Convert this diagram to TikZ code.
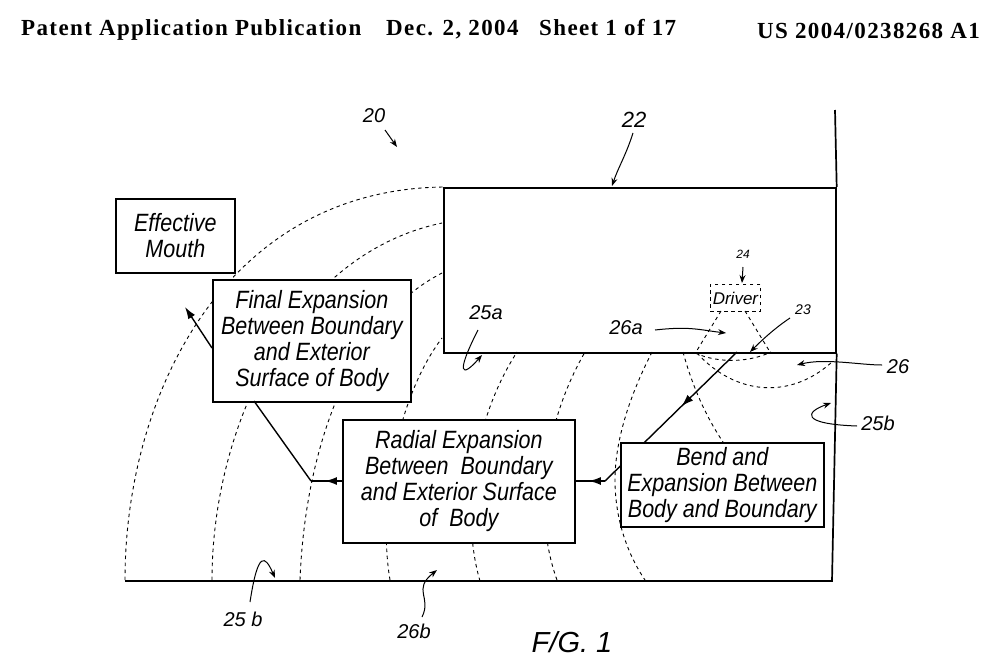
\documentclass[tikz,border=0pt]{standalone}
\usepackage{fontspec}
\setmainfont{Liberation Serif}
\setsansfont{Liberation Sans}
\newfontfamily\boxfont[FakeStretch=0.86]{Liberation Sans}
\newfontfamily\headfont[LetterSpace=6]{Liberation Serif}
\usetikzlibrary{arrows.meta,decorations.markings}
\tikzset{
  wall/.style={line width=1.7pt},
  wave/.style={dash pattern=on 3.5pt off 3.5pt,line width=.9pt},
  stepbox/.style={draw,line width=1.7pt,fill=white,align=center,inner sep=0pt,
    font=\boxfont\itshape\fontsize{25}{26}\selectfont,anchor=north west},
  flow/.style={line width=1.4pt},
  flowtip/.style={flow,-{Latex[length=12pt,width=8pt]}},
  flowmid/.style={flow,postaction={decorate},decoration={markings,
    mark=at position #1 with {\arrow{Latex[length=12pt,width=8pt]}}}},
  flowmid/.default=.55,
  ref/.style={font=\sffamily\itshape\fontsize{20}{22}\selectfont,inner sep=0pt},
  lead/.style={line width=1pt},
  leadtip/.style={lead,-{Stealth[length=8pt,width=6pt]}},
  head/.style={font=\headfont\bfseries\fontsize{23}{25}\selectfont,inner sep=0pt,anchor=base west}
}
\begin{document}
\begin{tikzpicture}[x=1pt,y=-1pt]
  \useasboundingbox (0,0) rectangle (1000,669);
  % header
  \node[head] (pub) at (21,36) {Patent Application Publication};
  \node[head] (date) at (386,36) {Dec. 2, 2004};
  \node[head] (sheet) at (539,36) {Sheet 1 of 17};
  \node[head] (num) at (757,38) {US 2004/0238268 A1};
  % wave fronts
  \draw[wave] (125,580) .. controls (125,395) and (225,190) .. (443,187);
  \draw[wave] (212,580) .. controls (212,430) and (290,255) .. (442,223);
  \draw[wave] (300,580) .. controls (305,450) and (350,320) .. (442,273);
  \draw[wave] (390,580) .. controls (378,510) and (395,400) .. (442,338);
  \draw[wave] (480,581) .. controls (462,520) and (470,425) .. (517,352);
  \draw[wave] (557,580) .. controls (535,520) and (540,430) .. (585,352);
  \draw[wave] (652,352) .. controls (630,395) and (615,440) .. (615,480) .. controls (615,520) and (628,555) .. (645,580);
  \draw[wave] (683,352) .. controls (692,385) and (705,415) .. (723,442);
  \draw[wave] (697,353) .. controls (735,395) and (790,400) .. (832,362);
  \draw[wave] (695,353) .. controls (720,364) and (750,362) .. (771,352);
  \draw[wave] (721,311) -- (696,352);
  \draw[wave] (745,311) -- (770,352);
  % walls
  \node[draw,wall,minimum width=392pt,minimum height=165pt,inner sep=0pt,anchor=north west] (body) at (443,187) {};
  \coordinate (wallT) at (835,110);
  \coordinate (wallB) at (832,581);
  \coordinate (baseL) at (125,581);
  \draw[wall] (wallT) -- (body.north east);
  \draw[wall] (body.south east) -- (wallB) -- (baseL);
  % flow behind the bend block
  \coordinate (bendA) at (737,352);
  \coordinate (kneeA) at (605,481);
  \coordinate (kneeB) at (311,481);
  \coordinate (tipF) at (185,307);
  \coordinate (startF) at (212,348);
  \draw[flowmid=.42] (bendA) -- (kneeA);
  % blocks
  \node[stepbox,minimum width=119pt,minimum height=74pt] (mouth) at (115,198) {Effective\\Mouth};
  \node[stepbox,minimum width=198pt,minimum height=122pt] (final) at (212,279) {Final Expansion\\Between Boundary\\and Exterior\\Surface of Body};
  \node[stepbox,minimum width=232pt,minimum height=123pt] (radial) at (342,419) {Radial Expansion\\Between\ \ Boundary\\and Exterior Surface\\of\ \ Body};
  \node[stepbox,minimum width=203pt,minimum height=84pt] (bend) at (620,442) {Bend and\\Expansion Between\\Body and Boundary};
  \node[draw,wave,minimum width=50pt,minimum height=27pt,inner sep=0pt,anchor=north west,font=\sffamily\itshape\fontsize{17}{19}\selectfont] (driver) at (710,284) {Driver};
  % flow between blocks
  \draw[flowmid] (kneeA) -- (radial.east |- kneeA);
  \draw[flowmid] (radial.west |- kneeB) -- (kneeB);
  \draw[flow] (kneeB) -- (254,401);
  \draw[flowtip] (startF) -- (tipF);
  % reference numerals
  \node[ref] (r20) at (374,116) {20};
  \node[ref,font=\sffamily\itshape\fontsize{22}{24}\selectfont] (r22) at (634,120) {22};
  \node[ref,font=\sffamily\itshape\fontsize{12}{14}\selectfont] (r24) at (743,254) {24};
  \node[ref,font=\sffamily\itshape\fontsize{14}{16}\selectfont] (r23) at (803,310) {23};
  \node[ref] (r25a) at (486,313) {25a};
  \node[ref] (r26a) at (626,328) {26a};
  \node[ref] (r26) at (898,367) {26};
  \node[ref] (r25br) at (878,423) {25b};
  \node[ref] (r25b) at (243,619) {25 b};
  \node[ref] (r26b) at (414,631) {26b};
  \node[ref,font=\sffamily\itshape\fontsize{29}{31}\selectfont] (fig) at (572,642) {F/G. 1};
  % leaders
  \coordinate (p20) at (397,147);
  \coordinate (p22) at (612,186);
  \coordinate (p24) at (742,283);
  \coordinate (p23) at (750,352);
  \coordinate (p26a) at (726,333);
  \coordinate (p26) at (797,365);
  \coordinate (p25br) at (831,403);
  \coordinate (p25a) at (482,355);
  \coordinate (p25b) at (275,578);
  \coordinate (p26b) at (437,570);
  \draw[leadtip] (r20) ++(11,14) -- (p20);
  \draw[leadtip] (r22) ++(-1,13) .. controls (626,155) and (618,168) .. (p22);
  \draw[leadtip] (r24) ++(0,13) -- (p24);
  \draw[leadtip] (r23) ++(-13,8) .. controls (775,328) and (762,340) .. (p23);
  \draw[leadtip] (r26a) ++(29,2) .. controls (690,326) and (700,330) .. (p26a);
  \draw[leadtip] (r26) ++(-16,-2) .. controls (860,365) and (825,358) .. (p26);
  \draw[leadtip] (r25br) ++(-21,3) .. controls (800,424) and (805,412) .. (p25br);
  \draw[leadtip] (r25a) ++(-8,17) .. controls (455,375) and (462,378) .. (p25a);
  \draw[leadtip] (r25b) ++(7,-17) .. controls (258,550) and (265,555) .. (p25b);
  \draw[leadtip] (r26b) ++(8,-14) .. controls (432,597) and (412,590) .. (p26b);
\end{tikzpicture}
\end{document}
